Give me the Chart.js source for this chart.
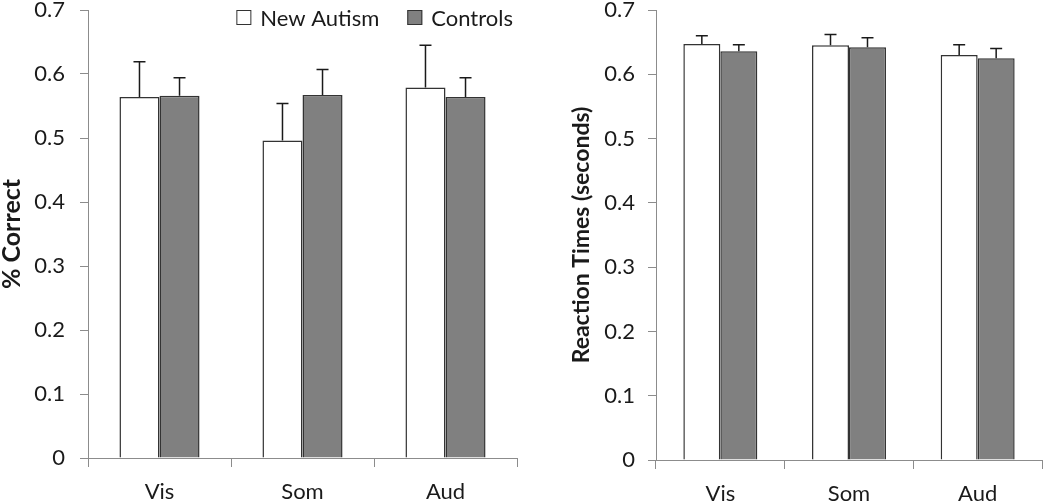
<!DOCTYPE html>
<html>
<head>
<meta charset="utf-8">
<script src="https://cdn.jsdelivr.net/npm/chart.js@4"></script>
<style>
  body { margin: 0; background: #fff; }
  canvas { position: absolute; top: 0; }
  #accChart { left: 0; }
  #rtChart { left: 525px; }
</style>
</head>
<body>
<canvas id="accChart" width="525" height="501"></canvas>
<canvas id="rtChart" width="525" height="501"></canvas>
<script>
// categories and tick labels
const categories = ['Vis', 'Som', 'Aud'];
const yTickLabels = ['0', '0.1', '0.2', '0.3', '0.4', '0.5', '0.6', '0.7'];

// % correct (left panel)
const accNewAutism = [0.564, 0.496, 0.579];
const accNewAutismErr = [0.055, 0.058, 0.066];
const accControls = [0.566, 0.567, 0.564];
const accControlsErr = [0.028, 0.040, 0.030];

// reaction times in seconds (right panel)
const rtNewAutism = [0.647, 0.645, 0.630];
const rtNewAutismErr = [0.013, 0.017, 0.016];
const rtControls = [0.636, 0.642, 0.625];
const rtControlsErr = [0.010, 0.015, 0.015];

Chart.defaults.font.family = 'Lato';
Chart.defaults.color = '#1a1a1a';

// upward-only error bars with a small cap
const errorBars = {
    id: 'errorBars',
    afterDatasetsDraw(chart) {
        const ctx = chart.ctx;
        const y = chart.scales.y;
        ctx.save();
        ctx.strokeStyle = '#1a1a1a';
        ctx.lineWidth = 1.5;
        chart.data.datasets.forEach((ds, i) => {
            chart.getDatasetMeta(i).data.forEach((bar, j) => {
                const top = y.getPixelForValue(ds.data[j] + ds.errors[j]);
                ctx.beginPath();
                ctx.moveTo(bar.x, bar.y);
                ctx.lineTo(bar.x, top);
                ctx.moveTo(bar.x - 6, top);
                ctx.lineTo(bar.x + 6, top);
                ctx.stroke();
            });
        });
        ctx.restore();
    }
};

// legend drawn in the top right corner of the plot area
const cornerLegend = {
    id: 'cornerLegend',
    afterDraw(chart) {
        const ctx = chart.ctx;
        const box = 15, gap = 9, itemGap = 28;
        ctx.save();
        ctx.font = '22px Lato';
        ctx.textBaseline = 'alphabetic';
        const items = chart.data.datasets.map(ds => ({ ds, w: ctx.measureText(ds.label).width }));
        let total = 0;
        items.forEach((it, k) => { total += box + gap + it.w + (k < items.length - 1 ? itemGap : 0); });
        let x = chart.chartArea.right - 4 - total;
        items.forEach(it => {
            ctx.fillStyle = it.ds.backgroundColor;
            ctx.fillRect(x, 10, box, box);
            ctx.strokeStyle = '#333';
            ctx.lineWidth = 1;
            ctx.strokeRect(x + 0.5, 10.5, box - 1, box - 1);
            ctx.fillStyle = '#1a1a1a';
            ctx.fillText(it.ds.label, x + box + gap, 26);
            x += box + gap + it.w + itemGap;
        });
        ctx.restore();
    }
};

function makeChart(id, naData, naErr, ctlData, ctlErr, title, opts) {
    return new Chart(document.getElementById(id), {
        type: 'bar',
        data: {
            labels: categories,
            datasets: [{
                label: 'New Autism',
                data: naData,
                errors: naErr,
                backgroundColor: '#ffffff',
                borderColor: '#333333',
                borderWidth: 1.5
            }, {
                label: 'Controls',
                data: ctlData,
                errors: ctlErr,
                backgroundColor: '#808080',
                borderColor: '#333333',
                borderWidth: 1.5
            }]
        },
        options: {
            responsive: false,
            animation: false,
            layout: { padding: { top: 10, right: 8, left: 0, bottom: 0 } },
            plugins: { legend: { display: false }, tooltip: { enabled: false } },
            datasets: { bar: { categoryPercentage: opts.catPct, barPercentage: 1 } },
            scales: {
                x: {
                    grid: { display: true, drawOnChartArea: false, tickLength: 9, color: '#8c8c8c', offset: true },
                    border: { color: '#8c8c8c' },
                    ticks: { font: { size: 22 }, padding: 12, color: '#1a1a1a' },
                    afterFit(s) { s.height = opts.xHeight; s.paddingLeft = 0; s.paddingRight = 0; }
                },
                y: {
                    min: 0,
                    max: 0.7,
                    grid: { display: true, drawOnChartArea: false, tickLength: 8, color: '#8c8c8c' },
                    border: { color: '#8c8c8c' },
                    ticks: {
                        stepSize: 0.1,
                        font: { size: 22 },
                        padding: opts.tickPad,
                        color: '#1a1a1a',
                        callback: (v, i) => yTickLabels[i]
                    },
                    title: {
                        display: true,
                        text: title,
                        font: { size: opts.titleSize, weight: 'bold' },
                        color: '#1a1a1a',
                        padding: { top: opts.titlePad, bottom: 0 }
                    },
                    afterFit(s) { s.width = opts.yWidth; s.paddingTop = 0; s.paddingBottom = 0; }
                }
            }
        },
        plugins: opts.legend ? [errorBars, cornerLegend] : [errorBars]
    });
}

makeChart('accChart', accNewAutism, accNewAutismErr, accControls, accControlsErr, '% Correct',
    { catPct: 0.56, xHeight: 43, yWidth: 88, tickPad: 15, titlePad: -3, titleSize: 25, legend: true });
makeChart('rtChart', rtNewAutism, rtNewAutismErr, rtControls, rtControlsErr, 'Reaction Times (seconds)',
    { catPct: 0.575, xHeight: 41, yWidth: 131, tickPad: 13, titlePad: 43, titleSize: 23, legend: false });
</script>
</body>
</html>
